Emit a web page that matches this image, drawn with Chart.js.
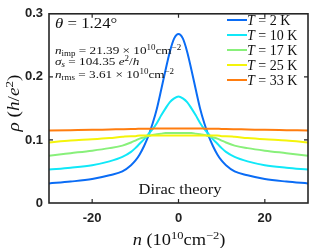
<!DOCTYPE html>
<html>
<head>
<meta charset="utf-8">
<script src="https://cdn.jsdelivr.net/npm/chart.js@4/dist/chart.umd.min.js"></script>
<style>
  html, body { margin: 0; padding: 0; background: #fff; }
  #wrap { width: 310px; height: 248px; position: relative; }
</style>
</head>
<body>
<div id="wrap"><canvas id="chart"></canvas></div>
<script>
// data
const nVals  = [-30, -25, -20, -16, -13, -11, -10, -9, -8, -7, -6, -5, -4, -3, -2, -1, 0, 1, 2, 3, 4, 5, 6, 7, 8, 9, 10, 11, 13, 16, 20, 25, 30];
const rho2K  = [0.031, 0.034, 0.038, 0.044, 0.050, 0.060, 0.067, 0.077, 0.090, 0.106, 0.126, 0.150, 0.180, 0.211, 0.240, 0.261, 0.268, 0.261, 0.240, 0.211, 0.180, 0.150, 0.126, 0.106, 0.090, 0.077, 0.067, 0.060, 0.050, 0.044, 0.038, 0.034, 0.031];
const rho10K = [0.053, 0.056, 0.060, 0.066, 0.073, 0.081, 0.087, 0.094, 0.101, 0.109, 0.117, 0.127, 0.139, 0.150, 0.160, 0.166, 0.169, 0.166, 0.160, 0.150, 0.139, 0.127, 0.117, 0.109, 0.101, 0.094, 0.087, 0.081, 0.073, 0.066, 0.060, 0.056, 0.053];
const rho17K = [0.075, 0.079, 0.083, 0.087, 0.091, 0.096, 0.099, 0.102, 0.104, 0.106, 0.108, 0.109, 0.110, 0.111, 0.111, 0.111, 0.111, 0.111, 0.111, 0.111, 0.110, 0.109, 0.108, 0.106, 0.104, 0.102, 0.099, 0.096, 0.091, 0.087, 0.083, 0.079, 0.075];
const rho25K = [0.096, 0.099, 0.101, 0.103, 0.105, 0.106, 0.106, 0.107, 0.107, 0.107, 0.107, 0.107, 0.107, 0.107, 0.107, 0.107, 0.107, 0.107, 0.107, 0.107, 0.107, 0.107, 0.107, 0.107, 0.107, 0.107, 0.106, 0.106, 0.105, 0.103, 0.101, 0.099, 0.096];
const rho33K = [0.1150, 0.1155, 0.1160, 0.1166, 0.1170, 0.1173, 0.1175, 0.1176, 0.1177, 0.1178, 0.1179, 0.1180, 0.1180, 0.1180, 0.1180, 0.1180, 0.1180, 0.1180, 0.1180, 0.1180, 0.1180, 0.1180, 0.1179, 0.1178, 0.1177, 0.1176, 0.1175, 0.1173, 0.1170, 0.1166, 0.1160, 0.1155, 0.1150];
const tempLabels = ['2', '10', '17', '25', '33'];
const xTicks = [-20, 0, 20];
const yTicks = [0, 0.1, 0.2, 0.3];

const colors = ['#0a6cf5', '#10e8f8', '#88f07a', '#f4f40a', '#ff7d0f'];
const series = [rho2K, rho10K, rho17K, rho25K, rho33K];

const SERIF = '"Liberation Serif", "DejaVu Serif", serif';
const AXIS = '#262626';

// draw text made of parts: {t, i (italic), s: 'sup'|'sub'}; sx stretches horizontally
function drawRich(ctx, x, y, parts, size, align, sx = 1) {
  const fontOf = p => {
    const sz = p.s ? size * 0.68 : size;
    return (p.i ? 'italic ' : '') + sz + 'px ' + SERIF;
  };
  let total = 0;
  parts.forEach(p => { ctx.font = fontOf(p); total += ctx.measureText(p.t).width; });
  ctx.save();
  ctx.translate(x, y);
  ctx.scale(sx, 1);
  let cx = align === 'center' ? -total / 2 : 0;
  ctx.textAlign = 'left';
  ctx.textBaseline = 'alphabetic';
  parts.forEach(p => {
    ctx.font = fontOf(p);
    let dy = 0;
    if (p.s === 'sup') dy = -size * 0.4;
    if (p.s === 'sub') dy = size * 0.22;
    ctx.fillText(p.t, cx, dy);
    cx += ctx.measureText(p.t).width;
  });
  ctx.restore();
}

const decor = {
  id: 'decor',
  afterDraw(chart) {
    const { ctx, chartArea: a, scales: { x, y } } = chart;
    ctx.save();
    ctx.fillStyle = '#111';
    // box + inward ticks
    ctx.strokeStyle = AXIS;
    ctx.lineWidth = 1.6;
    ctx.strokeRect(a.left, a.top, a.right - a.left, a.bottom - a.top);
    ctx.lineWidth = 1.2;
    ctx.beginPath();
    xTicks.forEach(v => {
      const px = x.getPixelForValue(v);
      ctx.moveTo(px, a.bottom); ctx.lineTo(px, a.bottom - 4);
      ctx.moveTo(px, a.top); ctx.lineTo(px, a.top + 4);
    });
    yTicks.slice(1, 3).forEach(v => {
      const py = y.getPixelForValue(v);
      ctx.moveTo(a.left, py); ctx.lineTo(a.left + 4, py);
      ctx.moveTo(a.right, py); ctx.lineTo(a.right - 4, py);
    });
    ctx.stroke();

    // legend
    tempLabels.forEach((t, i) => {
      const ly = 20 + i * 15;
      ctx.strokeStyle = colors[i];
      ctx.lineWidth = 2;
      ctx.beginPath(); ctx.moveTo(227, ly); ctx.lineTo(247, ly); ctx.stroke();
      drawRich(ctx, 247, ly + 5, [{ t: 'T', i: true }, { t: ' = ' + t + ' K' }], 14);
    });

    // annotations
    drawRich(ctx, 55, 28, [{ t: 'θ', i: true }, { t: ' = 1.24°' }], 15, 'left', 1.12);
    drawRich(ctx, 55, 54, [{ t: 'n', i: true }, { t: 'imp', s: 'sub' }, { t: ' = 21.39 × 10' }, { t: '10', s: 'sup' }, { t: 'cm' }, { t: '−2', s: 'sup' }], 11, 'left', 1.2);
    drawRich(ctx, 55, 65, [{ t: 'σ', i: true }, { t: 's', i: true, s: 'sub' }, { t: ' = 104.35 ' }, { t: 'e', i: true }, { t: '2', s: 'sup' }, { t: '/' }, { t: 'h', i: true }], 11, 'left', 1.2);
    drawRich(ctx, 55, 78, [{ t: 'n', i: true }, { t: 'rms', s: 'sub' }, { t: ' = 3.61 × 10' }, { t: '10', s: 'sup' }, { t: 'cm' }, { t: '−2', s: 'sup' }], 11, 'left', 1.2);
    drawRich(ctx, 180, 194, [{ t: 'Dirac theory' }], 15, 'center', 1.1);

    // axis titles
    drawRich(ctx, 179, 245, [{ t: 'n', i: true }, { t: ' (10' }, { t: '10', s: 'sup' }, { t: 'cm' }, { t: '−2', s: 'sup' }, { t: ')' }], 16, 'center', 1.15);
    ctx.save();
    ctx.translate(19, 103);
    ctx.rotate(-Math.PI / 2);
    drawRich(ctx, 0, 0, [{ t: 'ρ', i: true }, { t: ' (' }, { t: 'h', i: true }, { t: '/' }, { t: 'e', i: true }, { t: '2', s: 'sup' }, { t: ')' }], 16, 'center', 1.2);
    ctx.restore();
    ctx.restore();
  }
};

const datasets = series.map((s, i) => ({
  label: 'T = ' + tempLabels[i] + ' K',
  data: nVals.map((n, k) => ({ x: n, y: s[k] })),
  borderColor: colors[i],
  borderWidth: 2,
  pointRadius: 0,
  cubicInterpolationMode: 'monotone',
  fill: false,
  order: 5 - i
}));

new Chart(document.getElementById('chart'), {
  type: 'line',
  data: { datasets },
  options: {
    responsive: true,
    maintainAspectRatio: false,
    animation: false,
    layout: { padding: { top: 6, right: 2, left: 0, bottom: 0 } },
    plugins: { legend: { display: false }, tooltip: { enabled: false } },
    scales: {
      x: {
        type: 'linear', min: -30, max: 30,
        afterBuildTicks: s => { s.ticks = xTicks.map(v => ({ value: v })); },
        afterFit: s => { s.height = 45; },
        grid: { display: false, drawTicks: false },
        border: { display: false },
        ticks: { padding: 8, color: '#222', font: { family: '"Liberation Sans", Arial', size: 13, weight: 'bold' } }
      },
      y: {
        min: 0, max: 0.3,
        afterBuildTicks: s => { s.ticks = yTicks.map(v => ({ value: v })); },
        afterFit: s => { s.width = 49; },
        grid: { display: false, drawTicks: false },
        border: { display: false },
        ticks: { padding: 6, color: '#222', callback: v => v === 0 ? '0' : String(v),
                 font: { family: '"Liberation Sans", Arial', size: 13, weight: 'bold' } }
      }
    }
  },
  plugins: [decor]
});
</script>
</body>
</html>
